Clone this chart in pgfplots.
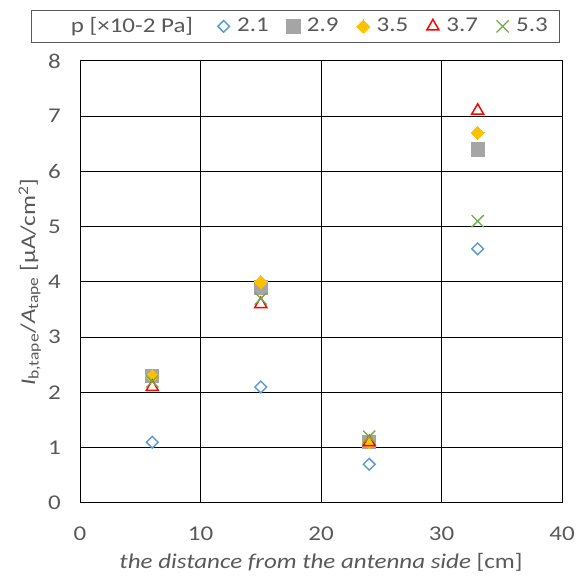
\documentclass[border=0pt]{standalone}
\usepackage{pgfplots}
\pgfplotsset{compat=1.18}
\usepackage{fontspec}
\setmainfont[FakeStretch=1.19]{Carlito}
\definecolor{txtgray}{RGB}{89,89,89}
\definecolor{cblue}{RGB}{91,155,213}
\definecolor{cgray}{RGB}{165,165,165}
\definecolor{cgold}{RGB}{255,192,0}
\definecolor{cred}{RGB}{255,0,0}
\definecolor{cgreen}{RGB}{112,173,71}

\begin{document}
\fontsize{15.75}{19}\selectfont
\begin{tikzpicture}
\begin{axis}[
    scale only axis,
    width=361.5pt, height=331.5pt,
    xmin=0, xmax=40, ymin=0, ymax=8,
    xtick={0,10,20,30,40}, ytick={0,1,...,8},
    major tick length=0pt,
    grid=major,
    grid style={black, line width=0.75pt},
    axis line style={black, line width=0.75pt},
    tick label style={font=\fontsize{15.75}{19}\selectfont, text=txtgray},
    /pgf/number format/assume math mode=true,
    xticklabel style={inner sep=0pt, anchor=north, yshift=-17.8pt},
    yticklabel style={inner sep=0pt, anchor=east, xshift=-14.3pt},
    xlabel={\textit{the distance from the antenna side} [cm]},
    ylabel={\textit{I}\textsubscript{b,tape}/\textit{A}\textsubscript{tape} [µA/cm\textsuperscript{2}]},
    label style={font=\fontsize{15.75}{19}\selectfont, text=txtgray},
    xlabel style={at={(axis description cs:0.5,-0.1335)}, anchor=center},
    ylabel style={at={(axis description cs:-0.104,0.5)}, anchor=center, rotate=0},
    legend columns=6,
    legend style={at={(axis description cs:-0.1023,1.0414)}, anchor=south west,
        draw=txtgray, line width=0.75pt, inner xsep=5.3pt, inner ysep=3pt,
        font=\fontsize{15.75}{19}\selectfont, text=txtgray,
        nodes={inner xsep=3.5pt},
        /tikz/every even column/.append style={column sep=8.3pt}},
    legend image code/.code={\path (-0.22cm,0) (0.22cm,0); \draw[#1] plot coordinates {(0cm,0cm)};},
]
\addlegendimage{empty legend}
\addlegendentry{\hspace*{21pt}p [×10-2 Pa]\hspace*{4.5pt}}

\addplot[only marks, mark=square, mark size=3.1pt, mark options={rotate=45, draw=cblue, line width=1.1pt, fill=white}] coordinates {
    (6,1.1) (15,2.1) (24,0.7) (33,4.6)
};
\addlegendentry{2.1}

\addplot[only marks, mark=square*, mark size=5pt, mark options={draw=cgray, fill=cgray, line width=0pt}] coordinates {
    (6,2.3) (15,3.9) (24,1.1) (33,6.4)
};
\addlegendentry{2.9}

\addplot[only marks, mark=square*, mark size=3.45pt, mark options={rotate=45, draw=cgold, fill=cgold, line width=0pt}] coordinates {
    (6,2.3) (15,4.0) (24,1.1) (33,6.7)
};
\addlegendentry{3.5}

\addplot[only marks, mark=triangle, mark size=5.2pt, mark options={draw=cred, line width=1.1pt, fill=none}] coordinates {
    (6,2.1) (15,3.6) (24,1.1) (33,7.1)
};
\addlegendentry{3.7}

\addplot[only marks, mark=x, mark size=6.4pt, mark options={draw=cgreen, line width=1pt}] coordinates {
    (6,2.2) (15,3.7) (24,1.2) (33,5.1)
};
\addlegendentry{5.3}

\coordinate (bl) at (axis description cs:-0.166,-0.1652);
\coordinate (tr) at (axis description cs:1.0394,1.138);
\end{axis}
\pgfresetboundingbox
\path (bl) rectangle (tr);
\end{tikzpicture}
\end{document}
